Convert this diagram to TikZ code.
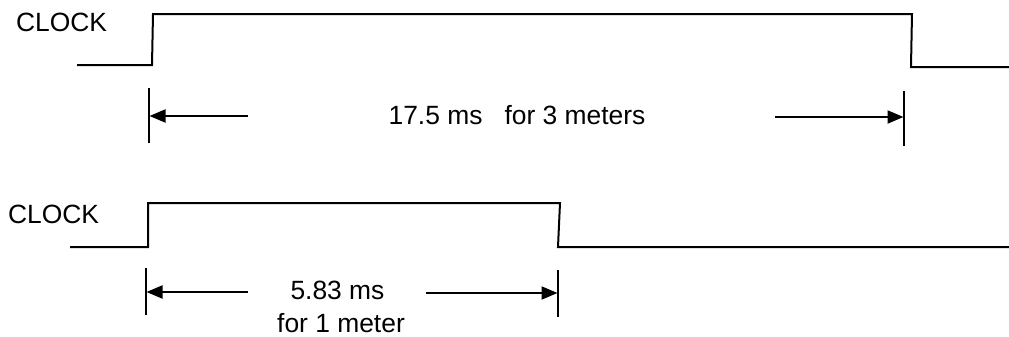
\documentclass[tikz,border=0pt]{standalone}
\usepackage{fontspec}
\setmainfont{Liberation Sans}
\usetikzlibrary{arrows.meta}
\begin{document}
\begin{tikzpicture}[x=0.5pt,y=-0.5pt,
  wave/.style={line width=1pt,line join=miter},
  tick/.style={line width=1pt},
  dimarrow/.style={line width=1pt,-{Triangle[length=8pt,width=6.5pt]}},
  lbl/.style={inner sep=0pt,anchor=base,font=\fontsize{13.2}{15.8}\selectfont}]
\useasboundingbox (0,0) rectangle (1009,337);
% labels
\node[lbl] (clk1) at (61.5,32) {CLOCK};
\node[lbl] (clk2) at (53.5,223) {CLOCK};
\node[lbl] (t1) at (517,125) {17.5 ms\ \ \ for 3 meters};
\node[lbl] (t2) at (337.5,299) {5.83 ms};
\node[lbl] (t3) at (341,332) {for 1 meter};
% top waveform
\coordinate (a0) at (77,65);
\coordinate (a1) at (152,65);
\coordinate (a2) at (153,14);
\coordinate (a3) at (912,14);
\coordinate (a4) at (911,67);
\coordinate (a5) at (1009,67);
\draw[wave] (a0) -- (a1) -- (a2) -- (a3) -- (a4) -- (a5);
% top ticks
\coordinate (ta1) at (149,88);
\coordinate (tb1) at (149,143);
\coordinate (ta2) at (904,91);
\coordinate (tb2) at (904,146);
\draw[tick] (ta1) -- (tb1);
\draw[tick] (ta2) -- (tb2);
% top arrows
\coordinate (la) at (248,116);
\coordinate (lb) at (149.5,116);
\coordinate (ra) at (775,117);
\coordinate (rb) at (903.5,117);
\draw[dimarrow] (la) -- (lb);
\draw[dimarrow] (ra) -- (rb);
% bottom waveform
\coordinate (b0) at (70,247);
\coordinate (b1) at (148,247);
\coordinate (b2) at (148,203);
\coordinate (b3) at (560,203);
\coordinate (b4) at (558,247);
\coordinate (b5) at (1009,247);
\draw[wave] (b0) -- (b1) -- (b2) -- (b3) -- (b4) -- (b5);
% bottom ticks
\coordinate (tc1) at (146,268);
\coordinate (td1) at (146,315);
\coordinate (tc2) at (558,270);
\coordinate (td2) at (558,317);
\draw[tick] (tc1) -- (td1);
\draw[tick] (tc2) -- (td2);
% bottom arrows
\coordinate (lc) at (248,292);
\coordinate (ld) at (146.5,292);
\coordinate (rc) at (426,293);
\coordinate (rd) at (557.5,293);
\draw[dimarrow] (lc) -- (ld);
\draw[dimarrow] (rc) -- (rd);
\end{tikzpicture}
\end{document}
